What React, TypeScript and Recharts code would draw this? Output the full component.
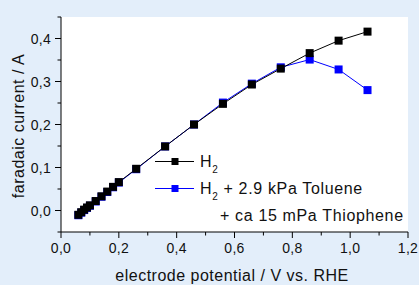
import { CartesianGrid, Customized, Line, LineChart, XAxis, YAxis } from "recharts";

const potential = [0.06, 0.07, 0.08, 0.09, 0.1, 0.12, 0.14, 0.16, 0.18, 0.2, 0.26, 0.36, 0.46, 0.56, 0.66, 0.76, 0.86, 0.96, 1.06];
const currentH2 = [-0.01, -0.004, 0.002, 0.007, 0.012, 0.022, 0.033, 0.044, 0.055, 0.066, 0.097, 0.149, 0.2, 0.248, 0.293, 0.33, 0.366, 0.395, 0.416];
const currentThiophene = [-0.011, -0.005, 0.001, 0.006, 0.011, 0.021, 0.032, 0.043, 0.054, 0.065, 0.096, 0.149, 0.2, 0.251, 0.295, 0.333, 0.351, 0.328, 0.28];

const xTicks = [0, 0.1, 0.2, 0.3, 0.4, 0.5, 0.6, 0.7, 0.8, 0.9, 1.0, 1.1, 1.2];
const yTicks = [-0.05, 0, 0.05, 0.1, 0.15, 0.2, 0.25, 0.3, 0.35, 0.4, 0.45];

const legendRest = ["", " + 2.9 kPa Toluene"];
const legendNote = "+ ca 15 mPa Thiophene";
const xTitle = "electrode potential / V vs. RHE";
const yTitle = "faradaic current / A";

const FONT = '"Liberation Sans", Arial, sans-serif';
const BLUE = "#0000ff";
const INK = "#111";

const data = potential.map((x, i) => ({ x, h2: currentH2[i], thio: currentThiophene[i] }));

const fmt = (v: number) => v.toFixed(1).replace(".", ",");

function XTick({ x, y, payload }: any) {
  const v = payload.value;
  const major = Math.round(v * 10) % 2 === 0;
  return (
    <g>
      <line x1={x} x2={x} y1={y} y2={y + (major ? 6 : 3.5)} stroke="#000" />
      {major && (
        <text x={x} y={y + 21} textAnchor="middle" fontSize={14} fill={INK} fontFamily={FONT} letterSpacing={0.3}>
          {fmt(v)}
        </text>
      )}
    </g>
  );
}

function YTick({ x, y, payload }: any) {
  const v = payload.value;
  const major = Math.round(v * 100) % 10 === 0;
  return (
    <g>
      <line x1={x} x2={x - (major ? 6 : 3.5)} y1={y} y2={y} stroke="#000" />
      {major && (
        <text x={x - 10} y={y + 5} textAnchor="end" fontSize={14} fill={INK} fontFamily={FONT} letterSpacing={0.3}>
          {fmt(v)}
        </text>
      )}
    </g>
  );
}

const squareDot = (color: string) => (props: any) => (
  <rect key={`${color}-${props.index}`} x={props.cx - 4} y={props.cy - 4} width={8} height={8} fill={color} />
);

function Overlay() {
  const colors = ["#000", BLUE];
  const rows = [167, 194];
  return (
    <g fontFamily={FONT} fill={INK} fontSize={16} letterSpacing={0.5}>
      {rows.map((base, i) => (
        <g key={i}>
          <line x1={155} x2={194} y1={base - 5.5} y2={base - 5.5} stroke={colors[i]} />
          <rect x={171.5} y={base - 9} width={7} height={7} fill={colors[i]} />
          <text x={200} y={base} letterSpacing={0.65}>
            H
            <tspan fontSize={10} dy={6}>2</tspan>
            <tspan dy={-6}>{legendRest[i]}</tspan>
          </text>
        </g>
      ))}
      <text x={220} y={221} letterSpacing={0.65}>{legendNote}</text>
      <text x={232} y={281} textAnchor="middle">{xTitle}</text>
      <text x={24} y={126} textAnchor="middle" transform="rotate(-90, 24, 126)">{yTitle}</text>
    </g>
  );
}

export default function App() {
  return (
    <div style={{ position: "absolute", left: 0, top: 0, width: 419, height: 285, background: "#e3eefa" }}>
      <LineChart width={419} height={285} data={data} margin={{ top: 17, right: 11, bottom: 0, left: 0 }}>
        <CartesianGrid fill="#fff" horizontal={false} vertical={false} />
        <XAxis
          type="number"
          dataKey="x"
          domain={[0, 1.2]}
          ticks={xTicks}
          interval={0}
          height={53}
          tickSize={0}
          tickMargin={0}
          tickLine={false}
          axisLine={{ stroke: "#000" }}
          tick={<XTick />}
        />
        <YAxis
          type="number"
          domain={[-0.05, 0.45]}
          ticks={yTicks}
          interval={0}
          width={61}
          tickSize={0}
          tickMargin={0}
          tickLine={false}
          axisLine={{ stroke: "#000" }}
          tick={<YTick />}
        />
        <Line dataKey="thio" stroke={BLUE} strokeWidth={1} dot={squareDot(BLUE)} activeDot={false} isAnimationActive={false} />
        <Line dataKey="h2" stroke="#000" strokeWidth={1} dot={squareDot("#000")} activeDot={false} isAnimationActive={false} />
        <Customized component={Overlay} />
      </LineChart>
    </div>
  );
}
